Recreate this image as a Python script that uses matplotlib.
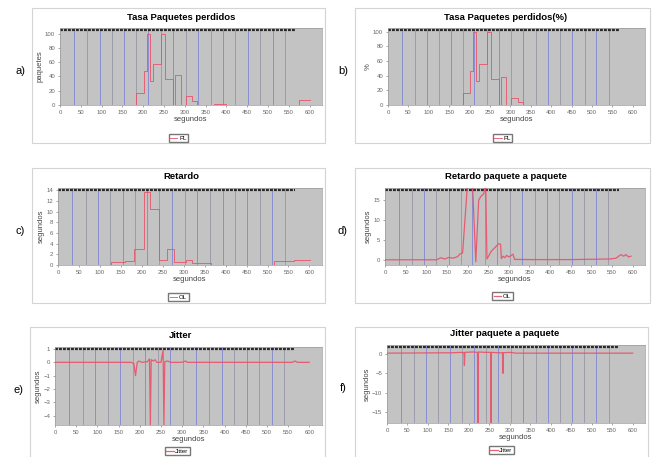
"""Seis paneles: perdidas, retardo y jitter frente al tiempo"""
import matplotlib
matplotlib.use("Agg")
import matplotlib.pyplot as plt
from matplotlib.patches import Rectangle

W, H = 655, 457

# instantes de los eventos marcados (lineas verticales)
event_times = [34, 66, 95, 124, 154, 183, 212, 242, 271, 302, 332, 363, 393, 422, 452, 482, 511, 541]

# a) paquetes perdidos (escalones)
pl_t = [0, 183, 201, 208, 216, 224, 242, 252, 272, 276, 290, 302, 318, 330, 370, 400, 575, 602]
pl_v = [0, 17, 48, 100, 33, 57, 100, 36, 0, 42, 0, 12, 5, 0, 2, 0, 7, 7]

# b) paquetes perdidos (%)
plp_t = [0, 183, 201, 208, 216, 224, 242, 252, 272, 276, 290, 302, 318, 330, 602]
plp_v = [0, 17, 47, 100, 33, 56, 100, 36, 0, 38, 0, 10, 4, 0, 0]

# c) retardo (escalones)
ol_t = [0, 126, 160, 182, 206, 219, 242, 261, 277, 305, 320, 365, 516, 564, 602]
ol_v = [0, 0.6, 0.8, 3.0, 13.7, 10.5, 1.0, 3.0, 0.5, 0.9, 0.3, 0, 0.8, 1.0, 1.0]

# d) retardo paquete a paquete
olp_t = [0, 60, 125, 135, 145, 155, 165, 176, 182, 188, 200, 212, 220, 227, 233, 239, 244, 247,
         251, 255, 259, 267, 275, 280, 282, 286, 290, 295, 300, 306, 310, 314, 350, 450, 545,
         560, 566, 572, 578, 584, 590, 596]
olp_v = [0.1, 0.1, 0.1, 0.6, 0.3, 0.7, 0.5, 0.9, 1.6, 1.8, 19, 19, -0.4, 15, 16, 16.5, 19, 0.3,
         1.0, 1.8, 2.4, 3.2, 4.1, 4.0, 0.4, 1.0, 0.6, 1.2, 0.8, 1.2, 1.5, 0.2, 0.15, 0.15, 0.3,
         0.5, 1.0, 1.4, 1.0, 1.4, 0.8, 1.0]

# e) jitter
jit_t = [0, 180, 186, 190, 194, 198, 205, 218, 223, 225, 227, 232, 236, 240, 250, 255, 257, 259,
         266, 272, 300, 308, 312, 560, 566, 572, 600]
jit_v = [0, 0, -0.1, -1.0, 0.0, 0.1, 0, 0.05, 0.25, -4.7, 0.2, 0.1, 0.2, 0, 0, 0.9, -4.7, 0.05,
         0.1, 0, 0, 0.1, 0, 0, 0.1, 0, 0]

# f) jitter paquete a paquete
jitp_t = [0, 160, 180, 188, 189, 190, 210, 221, 222, 223, 240, 253, 254, 255, 270, 282, 283, 284,
          300, 315, 600]
jitp_v = [0.2, 0.3, 0.4, 0.3, -3.0, 0.4, 0.5, 0.4, -18, 0.5, 0.4, 0.4, -18, 0.4, 0.3, 0.3, -5, 0.3,
          0.4, 0.2, 0.2]

RED = "#ea5068"
BG = "#c3c3c3"
FONT = "Liberation Sans"

panels = [
    # letra, titulo, ylabel, leyenda, datos, escalon, ylim, yticks, area (px), caja (px), leyenda y (px)
    ("a)", "Tasa Paquetes perdidos", "paquetes", "PL", (pl_t, pl_v), True,
     (0, 108), [0, 20, 40, 60, 80, 100], (60, 28, 322, 105), (32, 8, 325, 143), 138),
    ("b)", "Tasa Paquetes perdidos(%)", "%", "PL", (plp_t, plp_v), True,
     (0, 105), [0, 20, 40, 60, 80, 100], (388, 28, 645, 105), (355, 8, 650, 143), 138),
    ("c)", "Retardo", "segundos", "OL", (ol_t, ol_v), True,
     (0, 14.4), [0, 2, 4, 6, 8, 10, 12, 14], (58, 188, 322, 265), (32, 168, 325, 303), 297),
    ("d)", "Retardo paquete a paquete", "segundos", "OL", (olp_t, olp_v), False,
     (-1.2, 18), [0, 5, 10, 15], (385, 188, 645, 265), (355, 168, 650, 303), 296),
    ("e)", "Jitter", "segundos", "Jitter", (jit_t, jit_v), False,
     (-4.7, 1.15), [1, 0, -1, -2, -3, -4], (55, 347, 322, 425), (30, 327, 325, 470), 451),
    ("f)", "Jitter paquete a paquete", "segundos", "Jitter", (jitp_t, jitp_v), False,
     (-17.8, 2.3), [0, -5, -10, -15], (387, 345, 645, 423), (355, 327, 648, 470), 450),
]


def fx(px):
    return px / W


def fy(py):
    return 1 - py / H


fig = plt.figure(figsize=(W / 100, H / 100), dpi=100)
fig.patch.set_facecolor("white")

for letter, title, ylabel, leg, (t, v), step, ylim, yticks, area, box, leg_y in panels:
    l, top, r, b = area
    bl, bt, br, bb = box
    fig.add_artist(Rectangle((fx(bl), fy(bb)), fx(br - bl), (bb - bt) / H,
                             transform=fig.transFigure, facecolor="white",
                             edgecolor="#d4d4d4", linewidth=0.8, zorder=-5))

    ax = fig.add_axes([fx(l), fy(b), fx(r - l), (b - top) / H])
    ax.set_facecolor(BG)
    for i, et in enumerate(event_times):
        ax.axvline(et, color="#8a8fd2" if i % 2 == 0 else "#9c9cab", linewidth=0.7, zorder=1)
    # fila de etiquetas de eventos superpuestas
    ax.plot([1, 566], [0.978, 0.978], transform=ax.get_xaxis_transform(),
            color="#2a2a2a", linewidth=1.6, dashes=(1.3, 0.5), zorder=2)

    if step:
        line, = ax.plot(t, v, drawstyle="steps-post", color=RED, linewidth=0.7, alpha=0.85, zorder=3)
    else:
        line, = ax.plot(t, v, color=RED, linewidth=0.9, alpha=0.9, zorder=3)

    ax.set_xlim(0, 630)
    ax.set_ylim(*ylim)
    ax.set_xticks(range(0, 601, 50))
    ax.set_yticks(yticks)
    ax.tick_params(labelsize=4.3, colors="#666666", length=1.5, width=0.4, pad=2)
    for sp in ax.spines.values():
        sp.set_color("#9a9a9a")
        sp.set_linewidth(0.5)
    for lab in ax.get_xticklabels() + ax.get_yticklabels():
        lab.set_fontfamily(FONT)

    ax.set_xlabel("segundos", fontsize=5.5, family=FONT, color="#444444", labelpad=1)
    ax.set_ylabel(ylabel, fontsize=5.5, family=FONT, color="#444444", labelpad=1)

    cx = (bl + br) / 2
    fig.text(fx(cx + 3), fy(top - 11), title, ha="center", va="center",
             fontsize=6.8, fontweight="bold", family=FONT)
    fig.text(fx(bl - 12), fy((top + b) / 2 + 4), letter, ha="center", va="center",
             fontsize=8, family=FONT)

    ax.legend([line], [leg], loc="center", bbox_to_anchor=(fx(cx), fy(leg_y)),
              bbox_transform=fig.transFigure, handlelength=1.2,
              handletextpad=0.3, borderpad=0.3, fancybox=False, framealpha=1,
              edgecolor="#777777", prop={"family": FONT, "size": 4.3})

fig.savefig("out.png", dpi=100)
